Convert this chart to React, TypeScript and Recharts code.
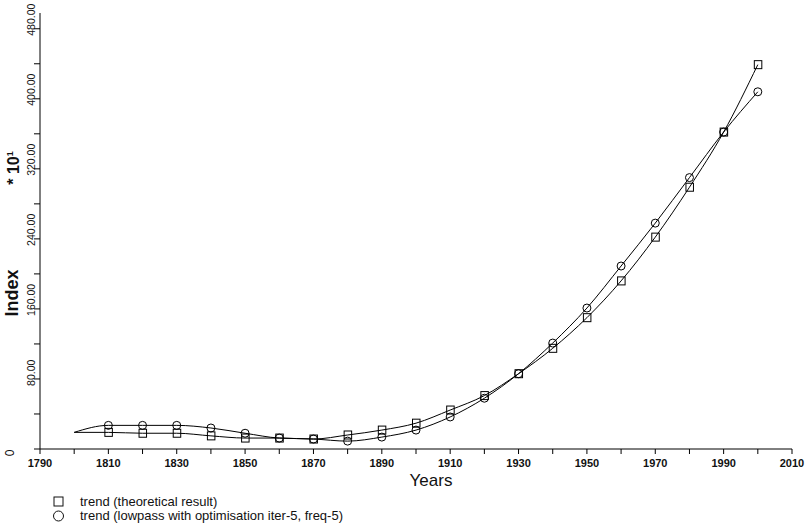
import React from 'react';
import { LineChart, Line, XAxis, YAxis } from 'recharts';

const years = [1800, 1810, 1820, 1830, 1840, 1850, 1860, 1870, 1880, 1890, 1900, 1910, 1920, 1930, 1940, 1950, 1960, 1970, 1980, 1990, 2000];

// trend (theoretical result)
const theoretical = [19, 19, 18, 18, 15, 12.5, 12.5, 11.4, 16, 21.6, 29.5, 44.5, 61, 86, 115, 150, 192, 242, 299, 362, 439];

// trend (lowpass with optimisation iter-5, freq-5)
const lowpass = [19, 27, 27, 27, 24, 18, 12.5, 11.4, 9, 13.6, 21.6, 36.6, 58, 86, 121, 161, 209, 258, 310, 362, 408];

const xTicks = [1790, 1800, 1810, 1820, 1830, 1840, 1850, 1860, 1870, 1880, 1890, 1900, 1910, 1920, 1930, 1940, 1950, 1960, 1970, 1980, 1990, 2000, 2010];
const yTicks = [0, 40, 80, 120, 160, 200, 240, 280, 320, 360, 400, 440, 480];

const legendItems = ['trend (theoretical result)', 'trend (lowpass with optimisation iter-5, freq-5)'];

const data = years.map((year, i) => ({ year, theoretical: theoretical[i], lowpass: lowpass[i] }));

const FONT = '"Liberation Sans", Arial, sans-serif';

// first point (1800) is the curve start only, no marker
function SquareDot(props: any) {
  const { cx, cy, index } = props;
  if (index === 0) return <g key={`sq-${index}`} />;
  return <rect key={`sq-${index}`} x={cx - 3.5} y={cy - 4} width={7.5} height={8} fill="none" stroke="#000" strokeWidth={1} />;
}

function CircleDot(props: any) {
  const { cx, cy, index } = props;
  if (index === 0) return <g key={`ci-${index}`} />;
  return <circle key={`ci-${index}`} cx={cx} cy={cy} r={4} fill="none" stroke="#000" strokeWidth={1} />;
}

function YTick({ y, payload }: any) {
  const v = payload.value;
  if (v % 80 !== 0) return <g />;
  if (v === 0) {
    return (
      <text x={14} y={y + 4} transform={`rotate(-90, 14, ${y + 4})`} textAnchor="middle" fontSize={12} fontFamily={FONT} fill="#111">
        0
      </text>
    );
  }
  const ty = y + 7;
  return (
    <text x={35} y={ty} transform={`rotate(-90, 35, ${ty})`} textAnchor="start" fontSize={10.5} fontFamily={FONT} fill="#111">
      {v.toFixed(2)}
    </text>
  );
}

function XTick({ x, payload }: any) {
  const v = payload.value;
  if ((v - 1790) % 20 !== 0) return <g />;
  return (
    <text x={x} y={467} textAnchor="middle" fontSize={11} fontWeight={600} fontFamily={FONT} fill="#111">
      {v}
    </text>
  );
}

export default function App() {
  return (
    <div style={{ position: 'absolute', left: 0, top: 0, width: 807, height: 531, background: '#fff' }}>
      <LineChart width={807} height={531} data={data} margin={{ top: 13, right: 15, bottom: 0, left: 0 }}>
        <XAxis
          dataKey="year"
          type="number"
          domain={[1790, 2010]}
          ticks={xTicks}
          interval={0}
          height={82}
          tickSize={5}
          stroke="#000"
          tick={<XTick />}
        />
        <YAxis
          type="number"
          domain={[0, 498]}
          ticks={yTicks}
          interval={0}
          width={40}
          tickSize={6}
          stroke="#000"
          tick={<YTick />}
        />
        <Line type="monotone" dataKey="theoretical" stroke="#000" strokeWidth={1} dot={SquareDot} activeDot={false} isAnimationActive={false} />
        <Line type="monotone" dataKey="lowpass" stroke="#000" strokeWidth={1} dot={CircleDot} activeDot={false} isAnimationActive={false} />
      </LineChart>

      <svg width={807} height={531} style={{ position: 'absolute', left: 0, top: 0, pointerEvents: 'none' }}>
        <text x={431} y={486} textAnchor="middle" fontSize={17} fontFamily={FONT} fill="#111">
          Years
        </text>
        <text x={18} y={293} transform="rotate(-90, 18, 293)" textAnchor="middle" fontSize={18} fontWeight="bold" fontFamily={FONT} fill="#111">
          Index
        </text>
        <text x={19} y={168} transform="rotate(-90, 19, 168)" textAnchor="middle" fontSize={16} fontWeight="bold" fontFamily={FONT} fill="#111">
          * 10<tspan dy={-6} fontSize={9}>1</tspan>
        </text>
        <rect x={54} y={497} width={9} height={9} fill="none" stroke="#111" strokeWidth={1} />
        <text x={80} y={506} fontSize={13} fontFamily={FONT} fill="#111">
          {legendItems[0]}
        </text>
        <circle cx={58.5} cy={516} r={5} fill="none" stroke="#111" strokeWidth={1} />
        <text x={80} y={520} fontSize={13} fontFamily={FONT} fill="#111">
          {legendItems[1]}
        </text>
      </svg>
    </div>
  );
}
